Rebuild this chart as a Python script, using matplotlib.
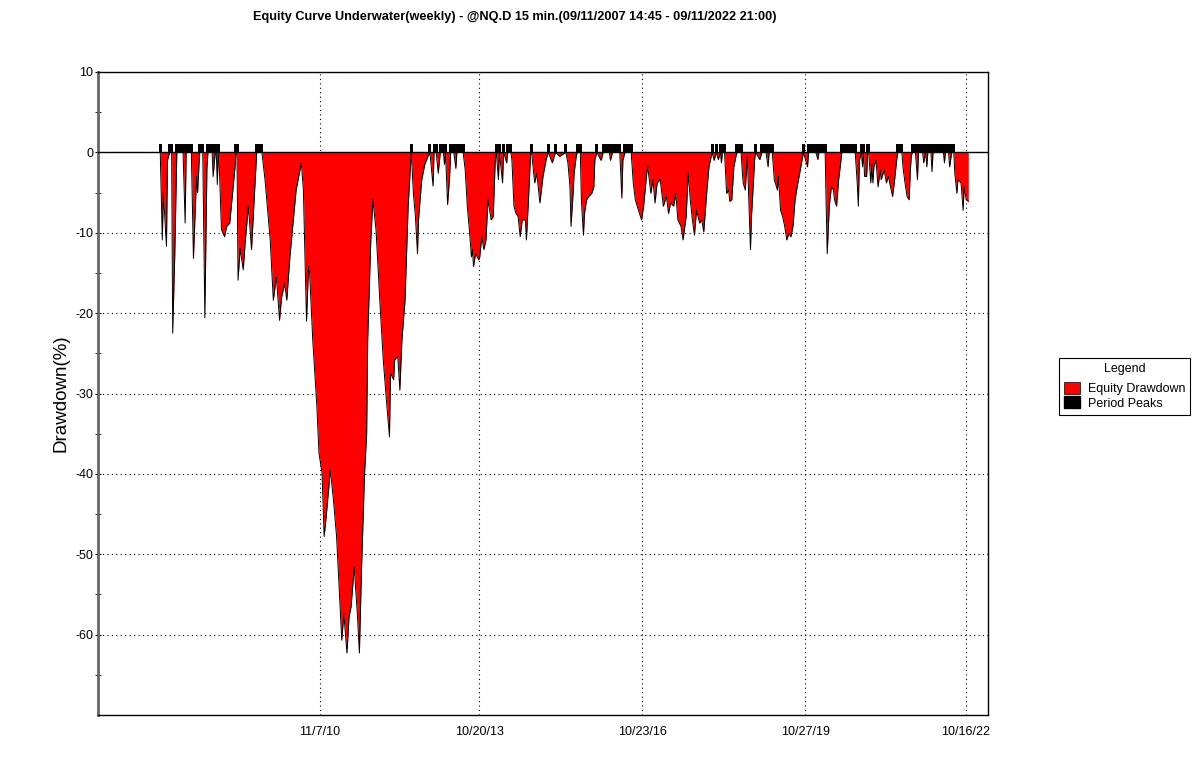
import numpy as np
import pandas as pd
import matplotlib
matplotlib.use("Agg")
import matplotlib.pyplot as plt
from matplotlib.patches import Patch

plt.rcParams['font.family'] = ['Liberation Sans', 'DejaVu Sans']

# weekly underwater curve, week index counted from 09/11/2007
start = pd.Timestamp('2007-09-11')
weeks = [11, 13, 14, 17, 18, 20, 22, 23, 25, 27, 33, 35, 36, 41, 43, 46, 47, 49, 52, 54,
         56, 57, 61, 62, 64, 65, 66, 67, 68, 70, 73, 75, 78, 81, 83, 84, 85, 86, 88, 91,
         93, 96, 99, 102, 104, 109, 112, 117, 120, 123, 126, 128, 131, 133, 136, 139, 142, 147, 149, 152,
         154, 155, 158, 162, 164, 167, 169, 171, 175, 178, 181, 184, 186, 188, 191, 193, 195, 198, 201, 203,
         205, 208, 210, 211, 214, 216, 219, 223, 226, 229, 232, 233, 236, 237, 240, 242, 244, 247, 250, 253,
         255, 257, 259, 260, 263, 266, 269, 271, 274, 275, 277, 279, 281, 284, 285, 286, 288, 290, 291, 294,
         296, 297, 303, 305, 307, 309, 311, 312, 313, 315, 318, 319, 321, 323, 325, 327, 330, 332, 334, 335,
         337, 338, 341, 342, 345, 346, 349, 350, 352, 354, 356, 358, 360, 363, 364, 366, 368, 369, 372, 374,
         377, 380, 383, 385, 389, 392, 396, 402, 404, 406, 407, 409, 410, 412, 413, 416, 417, 419, 420, 422,
         424, 427, 429, 430, 432, 436, 438, 444, 445, 447, 454, 456, 457, 459, 465, 467, 469, 472, 475, 477,
         480, 481, 484, 486, 488, 490, 493, 496, 499, 501, 503, 506, 508, 510, 513, 515, 518, 520, 522, 524,
         526, 528, 531, 533, 535, 538, 540, 543, 545, 547, 549, 551, 552, 553, 555, 557, 559, 560, 562, 564,
         566, 567, 571, 572, 573, 575, 576, 577, 579, 580, 581, 583, 584, 585, 589, 591, 595, 597, 598, 601,
         603, 606, 607, 609, 611, 613, 615, 617, 619, 621, 623, 625, 628, 631, 635, 636, 643, 645, 646, 652,
         653, 654, 656, 658, 660, 661, 663, 665, 667, 668, 681, 682, 683, 684, 685, 687, 688, 689, 690, 692,
         693, 694, 696, 697, 698, 699, 701, 703, 705, 706, 709, 711, 713, 715, 717, 719, 721, 722, 726, 727,
         729, 731, 733, 734, 735, 736, 739, 741, 742, 746, 747, 749, 750, 751, 754, 755, 756, 766, 767, 768,
         771, 772, 774, 776, 777, 779, 780, 783, 785, 786, 788, 790]
drawdown = [0, -10.9, -5, -11.7, -1, 0, 0, -22.5, -12.8, 0, 0, -8.8, 0, 0, -13.2, -3, -5, 0, 0, -20.6,
            -2, 0, 0, -3, 0, 0, -4, 0, -2, -9.6, -10.5, -9.2, -8.8, -4.7, -2, 0, 0, -15.9, -12, -14.6,
            -11, -6.7, -12.1, -4.7, 0, 0, -3.4, -10.9, -18.4, -15.5, -20.9, -18, -16.3, -18.4, -13, -8.8, -4.7, -1.3, -4.7, -21,
            -14.2, -15, -23.3, -31.6, -37.4, -39.9, -47.8, -45.3, -39.5, -43.3, -47.8, -55.7, -60.7, -57.4, -62.3, -57.8, -56.5, -51.6, -57.4, -62.3,
            -52, -39.9, -35, -23.3, -10.9, -5.9, -9.6, -19.2, -25.8, -30.8, -35.4, -27.5, -28.3, -25.8, -25.4, -29.6, -23.3, -18.4, -6.7, 0,
            -5, -8, -12.6, -8.4, -3.5, -1.5, -0.5, 0, -4.2, 0, 0, -2.6, 0, 0, -1.5, 0, -6.5, -3, 0, 0,
            -2, 0, 0, -2.2, -6.7, -9.6, -13, -12.1, -14.2, -12.6, -13.4, -13, -10.5, -12.1, -10.9, -5.9, -8.4, -8, -0.9, 0,
            -3.4, 0, -3.8, 0, -1.3, 0, 0, -0.9, -6.7, -7.6, -8, -10.5, -8.4, -8.4, -10.9, -5.9, -0.3, 0, -3.8, -2.6,
            -6.3, -3, -0.9, 0, -1.3, 0, -0.5, 0, -1.3, -4.3, -9.2, -5.1, -2.6, -0.5, 0, 0, -5.9, -10.3, -7.6, -5.9,
            -5.5, -5.1, -4.3, -0.9, 0, -1, 0, 0, -1, 0, 0, -5.7, -1, 0, 0, -3.8, -5.9, -7.2, -8.4, -6.7,
            -2.6, -1.8, -5.1, -3.4, -6.3, -3.8, -3.4, -6.7, -5.5, -7.6, -6.3, -6.7, -5.1, -8.4, -9.2, -10.9, -8, -2.6, -5.9, -8.4,
            -10.3, -7.2, -8.8, -8.4, -9.9, -4.7, -1.8, 0, -1, 0, -0.9, 0, -1.3, 0, 0, -5.1, -4.7, -6.1, -5.9, -1.8,
            -0.5, 0, 0, -2.2, -3.8, -4.7, -2.6, -0.5, -8.4, -12.1, -8, -3.4, -0.9, 0, -0.9, 0, 0, -1.8, 0, 0,
            -3.4, -4.7, -3, -7.2, -8, -9.2, -10.9, -10.1, -10.5, -9.2, -5.9, -4.3, -2.2, 0, -1.8, 0, 0, -0.9, 0, 0,
            -6.7, -12.6, -6.7, -4.3, -4.7, -5.9, -6.7, -3.4, -1.3, 0, 0, -2, -4, -6.7, -1, 0, -1.8, 0, -3, -3,
            0, 0, -3.8, -1.5, -3.8, -1.8, -1, -4.3, -2.2, -3.4, -2.2, -3.8, -3, -4.3, -5.5, -3.4, -0.9, 0, 0, -1.8,
            -3.8, -5.5, -5.9, -2.6, -0.5, 0, 0, -3.4, 0, 0, -1.3, 0, -1.8, 0, 0, -2.4, 0, 0, -1.3, 0,
            0, -1.8, 0, 0, -2.6, -5.1, -3.4, -3.8, -7.2, -4.3, -5.9, -6.1]

tick_dates = ['2010-11-07', '2013-10-20', '2016-10-23', '2019-10-27', '2022-10-16']
tick_labels = ['11/7/10', '10/20/13', '10/23/16', '10/27/19', '10/16/22']

title = 'Equity Curve Underwater(weekly) - @NQ.D 15 min.(09/11/2007 14:45 - 09/11/2022 21:00)'

dates = start + pd.to_timedelta(np.array(weeks) * 7, unit='D')
dd = np.array(drawdown)
is_peak = dd == 0

fig = plt.figure(figsize=(12, 7.58), dpi=100)
ax = fig.add_axes([98 / 1200, 1 - 715 / 758, 890 / 1200, 643 / 758])

ax.fill_between(dates, dd, 0, color='#ff0000', linewidth=0, zorder=2)
ax.plot(dates, dd, color='black', linewidth=0.7, zorder=3)

# period peaks: black marks above the zero line
ax.fill_between(dates, 0, 1, where=is_peak, color='black', linewidth=0, zorder=3)
ax.bar(dates[is_peak], 1, width=21, align='center', color='black', linewidth=0, zorder=3)

ax.axhline(0, color='black', linewidth=1, zorder=4)

ax.set_xlim(start - pd.Timedelta(weeks=49), start + pd.Timedelta(weeks=809))
ax.set_ylim(-70, 10)
ax.set_xticks(pd.to_datetime(tick_dates))
ax.set_xticklabels(tick_labels, fontsize=9)
ax.set_yticks(np.arange(-60, 11, 10))
ax.set_yticklabels([str(v) for v in range(-60, 11, 10)], fontsize=9)
ax.set_yticks(np.arange(-65, 10, 10), minor=True)
ax.tick_params(axis='x', length=0, pad=8)
ax.tick_params(axis='y', which='major', direction='inout', length=5, pad=1)
ax.tick_params(axis='y', which='minor', direction='inout', length=4)
ax.grid(True, which='major', color='black', linestyle=(0, (1, 3)), linewidth=0.8, zorder=1)

for side in ['top', 'right', 'bottom']:
    ax.spines[side].set_color('black')
    ax.spines[side].set_linewidth(1)
ax.spines['left'].set_color('#666666')
ax.spines['left'].set_linewidth(2)

ax.set_ylabel('Drawdown(%)', fontsize=13.5, labelpad=4)

fig.text(515 / 1200, 1 - 17 / 758, title, ha='center', va='center', fontsize=9.2, fontweight='bold')

handles = [Patch(facecolor='#ff0000', edgecolor='black', linewidth=0.5, label='Equity Drawdown'),
           Patch(facecolor='black', edgecolor='black', label='Period Peaks')]
leg = fig.legend(handles=handles, title='Legend', loc='upper left',
                 bbox_to_anchor=(1059 / 1200, 1 - 358 / 758), fontsize=9, title_fontsize=9,
                 fancybox=False, edgecolor='black', framealpha=1, borderpad=0.4,
                 handlelength=1.3, handleheight=1.1, handletextpad=0.6, labelspacing=0.1,
                 borderaxespad=0)
leg.get_frame().set_linewidth(0.8)
leg._legend_box.sep = 5

fig.savefig('out.png', dpi=100)
